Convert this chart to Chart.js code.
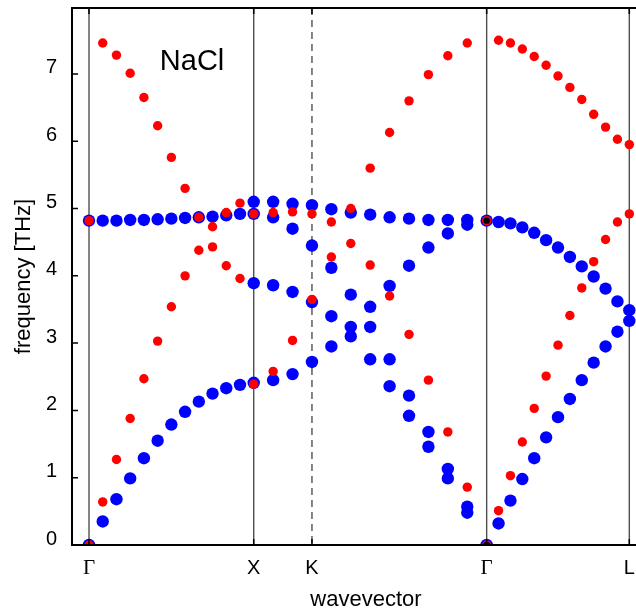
<!DOCTYPE html>
<html lang="en">
<head>
<meta charset="UTF-8">
<title>NaCl phonon dispersion</title>
<script src="https://cdn.jsdelivr.net/npm/chart.js"></script>
<style>
  html, body { margin: 0; padding: 0; background: #fff; overflow: hidden; }
  #wrap { width: 636px; height: 611px; overflow: hidden; }
  canvas { display: block; }
</style>
</head>
<body>
<div id="wrap"><canvas id="phonons" width="660" height="611"></canvas></div>
<script>
// q-path positions (2pi/a): Gamma-X (12 steps), X-K (3), K-Gamma (9), Gamma-L (12)
const qPath = [
  0, 0.0833, 0.1667, 0.25, 0.3333, 0.4167, 0.5, 0.5833, 0.6667, 0.75, 0.8333, 0.9167, 1,
  1.1179, 1.2357, 1.3536,
  1.4714, 1.5893, 1.7071, 1.8250, 1.9428, 2.0607, 2.1785, 2.2964, 2.4142,
  2.4864, 2.5586, 2.6307, 2.7029, 2.7751, 2.8473, 2.9194, 2.9916, 3.0638, 3.1360, 3.2081, 3.2802
];
const symPoints = [0, 1, 1.3536, 2.4142, 3.2802];
const symLabels = ['Γ', 'X', 'K', 'Γ', 'L'];
const freqTicks = [0, 1, 2, 3, 4, 5, 6, 7];

// blue set, sorted low -> high at each q (null = no point)
const blueA = [0, 0.35, 0.68, 0.99, 1.29, 1.55, 1.79, 1.98, 2.13, 2.25, 2.33, 2.38, 2.41,
  2.45, 2.54, 2.72,
  2.95, 3.10, 2.76, 2.36, 1.92, 1.46, 0.99, 0.48, 0,
  0.32, 0.66, 0.98, 1.29, 1.60, 1.90, 2.17, 2.45, 2.71, 2.95, 3.17, 3.33];
const blueB = [null, null, null, null, null, null, null, null, null, null, null, null, 3.89,
  3.86, 3.76, 3.61,
  3.40, 3.24, 3.24, 2.76, 2.22, 1.68, 1.13, 0.57, null,
  null, null, null, null, null, null, null, null, null, null, null, null];
const blueC = [null, null, null, null, null, null, null, null, null, null, null, null, 4.92,
  4.87, 4.70, 4.45,
  4.12, 3.72, 3.54, 3.85, 4.15, 4.42, 4.63, 4.76, null,
  null, null, null, null, null, null, null, null, null, null, null, null];
const blueD = [4.82, 4.82, 4.82, 4.83, 4.83, 4.84, 4.85, 4.86, 4.87, 4.88, 4.90, 4.92, 5.10,
  5.10, 5.07, 5.05,
  4.99, 4.94, 4.91, 4.87, 4.85, 4.83, 4.83, 4.83, 4.82,
  4.80, 4.78, 4.72, 4.64, 4.53, 4.42, 4.28, 4.14, 3.99, 3.81, 3.62, 3.49];

// red set
const redLow = [0, 0.64, 1.27, 1.88, 2.47, 3.03, 3.54, 4.00, 4.38, 4.43, 4.15, 3.96, 2.39,
  2.58, 3.04, 3.65,
  4.28, 4.48, 4.16, 3.70, 3.13, 2.45, 1.68, 0.86, 0,
  0.51, 1.03, 1.53, 2.03, 2.51, 2.97, 3.41, 3.82, 4.21, 4.54, 4.80, 4.92];
const redHigh = [4.82, 7.46, 7.28, 7.01, 6.65, 6.23, 5.76, 5.30, 4.87, 4.73, 4.94, 5.08, 4.92,
  4.94, 4.95, 4.92,
  4.80, 5.00, 5.60, 6.13, 6.60, 6.99, 7.27, 7.46, 4.82,
  7.50, 7.46, 7.37, 7.26, 7.13, 6.97, 6.80, 6.62, 6.40, 6.21, 6.03, 5.95];

// black markers at the second Gamma
const gammaMarks = [4.82, 0];

const pts = band => band
  .map((f, i) => (f === null ? null : { x: qPath[i], y: f }))
  .filter(Boolean);

Chart.defaults.font.family = "'Liberation Sans', Arial, sans-serif";
Chart.defaults.color = '#000';

const framePlugin = {
  id: 'frame',
  beforeDatasetsDraw(chart) {
    const { ctx, chartArea: a, scales: { x } } = chart;
    ctx.save();
    ctx.strokeStyle = '#505050';
    ctx.lineWidth = 1.4;
    symPoints.forEach((q, i) => {
      const px = x.getPixelForValue(q);
      ctx.setLineDash(symLabels[i] === 'K' ? [7, 5] : []);
      ctx.beginPath();
      ctx.moveTo(px, a.top);
      ctx.lineTo(px, a.bottom);
      ctx.stroke();
    });
    ctx.restore();
  },
  afterDatasetsDraw(chart) {
    const { ctx, chartArea: a, scales: { x, y } } = chart;
    ctx.save();
    ctx.strokeStyle = '#000';
    ctx.lineWidth = 2;
    ctx.beginPath();
    ctx.moveTo(a.right, a.top);
    ctx.lineTo(a.left, a.top);
    ctx.lineTo(a.left, a.bottom);
    ctx.lineTo(a.right, a.bottom);
    ctx.stroke();

    ctx.lineWidth = 1.5;
    ctx.beginPath();
    freqTicks.forEach(f => {
      const py = y.getPixelForValue(f);
      ctx.moveTo(a.left, py);
      ctx.lineTo(a.left + 6, py);
    });
    symPoints.forEach(q => {
      const px = x.getPixelForValue(q);
      ctx.moveTo(px, a.top);
      ctx.lineTo(px, a.top + 6);
      ctx.moveTo(px, a.bottom);
      ctx.lineTo(px, a.bottom - 6);
    });
    ctx.stroke();

    // compound label
    ctx.fillStyle = '#000';
    ctx.font = "29px 'Liberation Sans', Arial, sans-serif";
    ctx.textAlign = 'left';
    ctx.textBaseline = 'middle';
    ctx.fillText('NaCl', x.getPixelForValue(0.43), y.getPixelForValue(7.18));
    ctx.restore();
  }
};

new Chart(document.getElementById('phonons').getContext('2d'), {
  type: 'scatter',
  data: {
    datasets: [
      {
        label: 'Gamma', order: 0, clip: 0,
        data: gammaMarks.map(f => ({ x: qPath[24], y: f })),
        backgroundColor: '#000', borderWidth: 0, pointRadius: 3.2, pointHoverRadius: 3.2
      },
      {
        label: 'red', order: 1, clip: 0,
        data: [...pts(redLow), ...pts(redHigh)],
        backgroundColor: '#ff0000', borderWidth: 0, pointRadius: 4.7, pointHoverRadius: 4.7
      },
      {
        label: 'blue', order: 2, clip: 0,
        data: [...pts(blueA), ...pts(blueB), ...pts(blueC), ...pts(blueD)],
        backgroundColor: '#0000ff', borderWidth: 0, pointRadius: 6.2, pointHoverRadius: 6.2
      }
    ]
  },
  options: {
    responsive: false,
    animation: false,
    devicePixelRatio: 1,
    events: [],
    layout: { autoPadding: false, padding: { top: 8, right: 0, left: 0, bottom: 0 } },
    plugins: { legend: { display: false }, tooltip: { enabled: false } },
    scales: {
      x: {
        type: 'linear',
        min: -0.1032,
        max: 3.4665,
        grid: { display: false, drawTicks: false },
        border: { display: false },
        afterBuildTicks: s => { s.ticks = symPoints.map(v => ({ value: v })); },
        afterFit: s => { s.height = 66; s.paddingLeft = 0; s.paddingRight = 0; },
        ticks: {
          autoSkip: false,
          maxRotation: 0,
          padding: 11,
          color: '#000',
          callback: (v, i) => symLabels[i],
          font: c => ({
            family: symLabels[c.index] === 'Γ' ? "'Liberation Serif', 'Times New Roman', serif" : "'Liberation Sans', Arial, sans-serif",
            size: symLabels[c.index] === 'Γ' ? 21 : 20
          })
        },
        title: {
          display: true,
          text: 'wavevector',
          color: '#000',
          font: { size: 22 },
          padding: { top: 0, bottom: -2 }
        }
      },
      y: {
        min: 0,
        max: 7.98,
        grid: { display: false, drawTicks: false },
        border: { display: false },
        afterBuildTicks: s => { s.ticks = freqTicks.map(v => ({ value: v })); },
        afterFit: s => { s.width = 72; s.paddingTop = 0; s.paddingBottom = 0; },
        ticks: {
          padding: 15,
          labelOffset: -6,
          color: '#000',
          font: { size: 20 }
        },
        title: {
          display: true,
          text: 'frequency [THz]',
          color: '#000',
          font: { size: 22 },
          padding: { top: 11, bottom: 0 }
        }
      }
    }
  },
  plugins: [framePlugin]
});
</script>
</body>
</html>
